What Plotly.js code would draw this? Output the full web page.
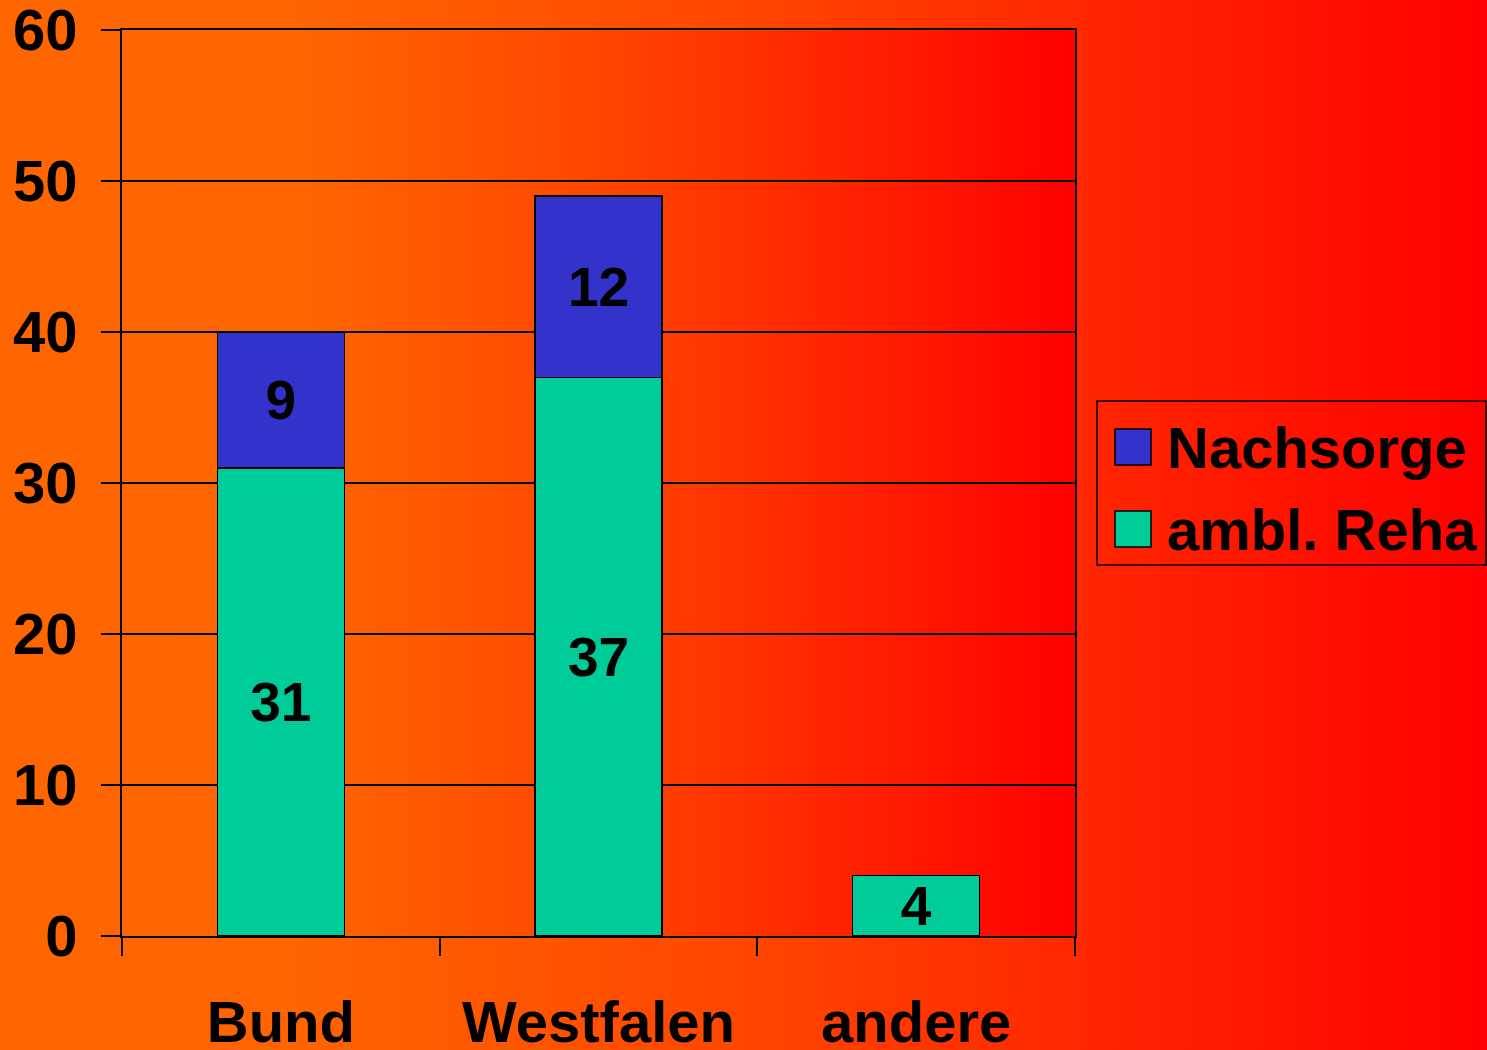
<!DOCTYPE html>
<html>
<head>
<meta charset="utf-8">
<script src="https://cdn.plot.ly/plotly-3.0.1.min.js"></script>
<style>
  html, body { margin: 0; padding: 0; }
  #chart {
    width: 1487px; height: 1050px;
    background: linear-gradient(to right, #FF6600 0%, #FF6400 20%, #FF4600 50%, #FF2400 75%, #FF0000 100%);
  }
</style>
</head>
<body>
<div id="chart"></div>
<script>
// ---- data ----
const categories = ["Bund", "Westfalen", "andere"];
const amblReha = [31, 37, 4];
const nachsorge = [9, 12, null];
const seriesNames = ["ambl. Reha", "Nachsorge"];
const seriesColors = ["#00CC99", "#3333CC"];
const yTickVals = [0, 10, 20, 30, 40, 50, 60];

// ---- geometry helpers (plot area in pixels) ----
const W = 1487, H = 1050;
const M = { l: 122, r: 1487 - 1075, t: 30, b: 1050 - 936 };
const pw = W - M.l - M.r, ph = H - M.t - M.b;
const px = x => (x - M.l) / pw;
const py = y => (H - M.b - y) / ph;

const FAMILY = "Liberation Sans, Arial, sans-serif";
const FONT = { family: FAMILY, size: 58, color: "#000000", weight: 700 };
const BARFONT = { family: FAMILY, size: 55, color: "#000000", weight: 700 };

const seriesValues = [amblReha, nachsorge];
const traces = seriesValues.map((vals, i) => ({
  type: "bar",
  x: categories,
  y: vals,
  name: seriesNames[i],
  width: 0.4,
  marker: { color: seriesColors[i], line: { color: "#000000", width: 1.5 } },
  text: vals.map(v => (v == null ? "" : String(v))),
  textposition: "inside",
  insidetextanchor: "middle",
  constraintext: "none",
  textangle: 0,
  textfont: BARFONT,
  hoverinfo: "none",
  showlegend: false
}));

// plot area gradient image
const svg = '<svg xmlns="http://www.w3.org/2000/svg" width="100" height="100" preserveAspectRatio="none">' +
  '<defs><linearGradient id="g" x1="0" y1="0" x2="1" y2="0">' +
  '<stop offset="0" stop-color="#FF6600"/><stop offset="0.2" stop-color="#FF6400"/>' +
  '<stop offset="0.5" stop-color="#FF4600"/><stop offset="0.75" stop-color="#FF2400"/>' +
  '<stop offset="1" stop-color="#FF0000"/></linearGradient></defs>' +
  '<rect width="100" height="100" fill="url(#g)"/></svg>';
const svgUri = "data:image/svg+xml;charset=utf-8," + encodeURIComponent(svg);

// ---- manual legend (large symbols) ----
const legendOrder = [1, 0]; // Nachsorge on top
const legendRowsY = [447, 529];
const shapes = [{
  type: "rect", xref: "paper", yref: "paper",
  x0: px(1097), x1: px(1486), y0: py(565), y1: py(401),
  line: { color: "#000000", width: 1.5 }, fillcolor: "rgba(0,0,0,0)"
}];
const annotations = [];
legendOrder.forEach((si, r) => {
  const cy = legendRowsY[r];
  shapes.push({
    type: "rect", xref: "paper", yref: "paper",
    x0: px(1115), x1: px(1151), y0: py(cy + 18), y1: py(cy - 18),
    line: { color: "#000000", width: 1.5 }, fillcolor: seriesColors[si]
  });
  annotations.push({
    xref: "paper", yref: "paper", x: px(1165), y: py(cy),
    xanchor: "left", yanchor: "middle", showarrow: false,
    text: seriesNames[si], font: FONT
  });
});

const layout = {
  width: W, height: H,
  margin: M,
  paper_bgcolor: "rgba(0,0,0,0)",
  plot_bgcolor: "rgba(0,0,0,0)",
  barmode: "stack",
  showlegend: false,
  font: FONT,
  images: [{
    source: svgUri, xref: "paper", yref: "paper",
    x: 0, y: 1, sizex: 1, sizey: 1, xanchor: "left", yanchor: "top",
    sizing: "stretch", layer: "below"
  }],
  xaxis: {
    type: "category",
    categoryorder: "array", categoryarray: categories,
    range: [-0.5, 2.5],
    tickson: "boundaries",
    ticks: "outside", ticklen: 18, tickwidth: 2, tickcolor: "#000000",
    showline: true, linecolor: "#000000", linewidth: 2, mirror: true,
    showgrid: false, zeroline: false,
    tickfont: FONT, ticklabelstandoff: 34, ticklabeloverflow: "allow"
  },
  yaxis: {
    range: [0, 60],
    tickmode: "array", tickvals: yTickVals, ticktext: yTickVals.map(String),
    ticks: "outside", ticklen: 19, tickwidth: 2, tickcolor: "#000000",
    showline: true, linecolor: "#000000", linewidth: 2, mirror: true,
    showgrid: true, gridcolor: "#000000", gridwidth: 2,
    zeroline: false,
    tickfont: FONT, ticklabelstandoff: 12, ticklabeloverflow: "allow"
  },
  shapes: shapes,
  annotations: annotations
};

Plotly.newPlot("chart", traces, layout, { staticPlot: true, displayModeBar: false });
</script>
</body>
</html>
